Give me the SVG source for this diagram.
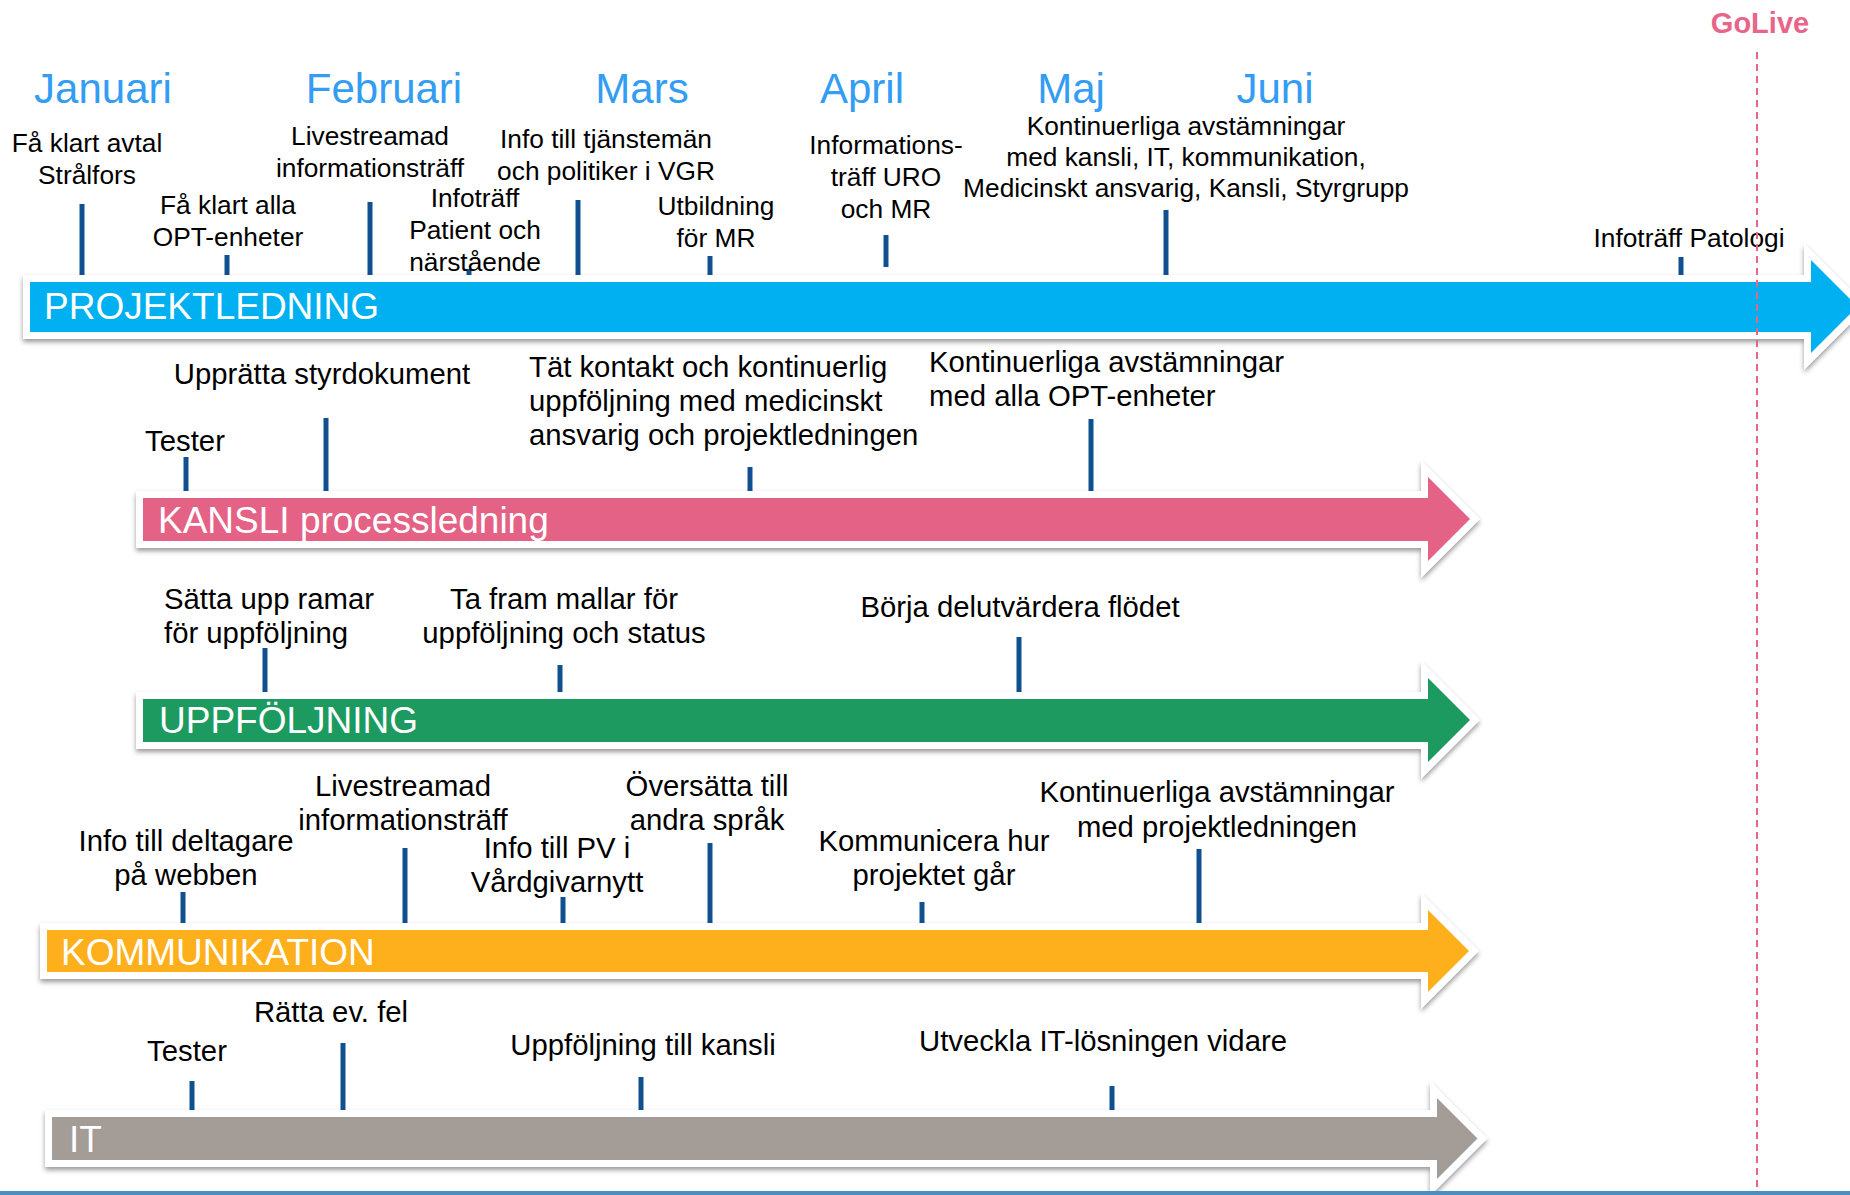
<svg xmlns="http://www.w3.org/2000/svg" width="1850" height="1195" viewBox="0 0 1850 1195">
<style>
.t{font-family:"Liberation Sans",Arial,sans-serif;fill:#000}
.s26{font-size:26.3px}
.s29{font-size:29.3px}
.m{text-anchor:middle}
.mon{font-family:"Liberation Sans",Arial,sans-serif;font-size:42px;fill:#339DF4;text-anchor:middle}
.bar{font-family:"Liberation Sans",Arial,sans-serif;font-size:37px;fill:#fff}
.arr{stroke:#fff;stroke-width:14;stroke-linejoin:miter;stroke-miterlimit:4;paint-order:stroke fill;filter:url(#sh)}
.tick{stroke:#11508F;stroke-width:5;fill:none}
</style>
<defs>
<filter id="sh" x="-5%" y="-30%" width="110%" height="160%">
<feDropShadow dx="0" dy="3" stdDeviation="2.5" flood-color="#000" flood-opacity="0.4"/>
</filter>
</defs>
<rect width="1850" height="1195" fill="#fff"/>

<g id="months">
<text class="mon" x="103" y="103">Januari</text>
<text class="mon" x="384" y="103">Februari</text>
<text class="mon" x="642" y="103">Mars</text>
<text class="mon" x="862" y="103">April</text>
<text class="mon" x="1071" y="103">Maj</text>
<text class="mon" x="1275" y="103">Juni</text>
</g>

<g id="connectors">
<line class="tick" x1="82" y1="204" x2="82" y2="275"/>
<line class="tick" x1="227" y1="255" x2="227" y2="275"/>
<line class="tick" x1="370" y1="202" x2="370" y2="275"/>
<line class="tick" x1="469" y1="269" x2="469" y2="275"/>
<line class="tick" x1="578" y1="200" x2="578" y2="275"/>
<line class="tick" x1="710" y1="256" x2="710" y2="275"/>
<line class="tick" x1="886" y1="235" x2="886" y2="267"/>
<line class="tick" x1="1166" y1="210" x2="1166" y2="275"/>
<line class="tick" x1="1681" y1="257" x2="1681" y2="275"/>

<line class="tick" x1="186" y1="457" x2="186" y2="491"/>
<line class="tick" x1="326" y1="418" x2="326" y2="491"/>
<line class="tick" x1="750" y1="467" x2="750" y2="491"/>
<line class="tick" x1="1091" y1="419" x2="1091" y2="491"/>

<line class="tick" x1="265" y1="648" x2="265" y2="692"/>
<line class="tick" x1="560" y1="665" x2="560" y2="692"/>
<line class="tick" x1="1019" y1="637" x2="1019" y2="692"/>

<line class="tick" x1="183" y1="892" x2="183" y2="923"/>
<line class="tick" x1="405" y1="848" x2="405" y2="923"/>
<line class="tick" x1="563" y1="897" x2="563" y2="923"/>
<line class="tick" x1="710" y1="843" x2="710" y2="923"/>
<line class="tick" x1="922" y1="902" x2="922" y2="923"/>
<line class="tick" x1="1199" y1="849" x2="1199" y2="923"/>

<line class="tick" x1="192" y1="1081" x2="192" y2="1110"/>
<line class="tick" x1="343" y1="1043" x2="343" y2="1110"/>
<line class="tick" x1="641" y1="1077" x2="641" y2="1110"/>
<line class="tick" x1="1112" y1="1086" x2="1112" y2="1110"/>
</g>

<g id="arrow-projektledning">
<path class="arr" fill="#00B0F0" d="M30,282 H1811 V260 L1857.5,306.5 L1811,353 V332 H30 Z"/>
<text class="bar" x="44" y="319">PROJEKTLEDNING</text>
</g>
<g id="arrow-kansli">
<path class="arr" fill="#E46285" d="M143,498 H1428 V477 L1470,519 L1428,561 V541 H143 Z"/>
<text class="bar" x="158" y="533">KANSLI processledning</text>
</g>
<g id="arrow-uppfoljning">
<path class="arr" fill="#1D9A5F" d="M143,699 H1428 V678 L1470,720 L1428,762 V742 H143 Z"/>
<text class="bar" x="159" y="733">UPPFÖLJNING</text>
</g>
<g id="arrow-kommunikation">
<path class="arr" fill="#FDB01B" d="M47,930 H1428 V910 L1469,951 L1428,992 V972 H47 Z"/>
<text class="bar" x="61" y="965">KOMMUNIKATION</text>
</g>
<g id="arrow-it">
<path class="arr" fill="#A39C97" d="M52,1117 H1437 V1098 L1477.5,1138.5 L1437,1179 V1160 H52 Z"/>
<text class="bar" x="69" y="1152">IT</text>
</g>

<g id="p1" class="t s26 m"><text x="87" y="152">Få klart avtal</text><text x="87" y="184">Strålfors</text></g>
<g id="p2" class="t s26 m"><text x="228" y="214">Få klart alla</text><text x="228" y="246">OPT-enheter</text></g>
<g id="p3" class="t s26 m"><text x="370" y="145">Livestreamad</text><text x="370" y="177">informationsträff</text></g>
<g id="p4" class="t s26 m"><text x="475" y="207">Infoträff</text><text x="475" y="239">Patient och</text><text x="475" y="271">närstående</text></g>
<g id="p5" class="t s26 m"><text x="606" y="148">Info till tjänstemän</text><text x="606" y="180">och politiker i VGR</text></g>
<g id="p6" class="t s26 m"><text x="716" y="215">Utbildning</text><text x="716" y="247">för MR</text></g>
<g id="p7" class="t s26 m"><text x="886" y="154">Informations-</text><text x="886" y="186">träff URO</text><text x="886" y="218">och MR</text></g>
<g id="p8" class="t s26 m"><text x="1186" y="135">Kontinuerliga avstämningar</text><text x="1186" y="166">med kansli, IT, kommunikation,</text><text x="1186" y="197">Medicinskt ansvarig, Kansli, Styrgrupp</text></g>
<g id="p9" class="t s26 m"><text x="1689" y="247">Infoträff Patologi</text></g>

<g id="k1" class="t s29 m"><text x="322" y="384">Upprätta styrdokument</text></g>
<g id="k2" class="t s29 m"><text x="185" y="451">Tester</text></g>
<g id="k3" class="t s29"><text x="529" y="377">Tät kontakt och kontinuerlig</text><text x="529" y="411">uppföljning med medicinskt</text><text x="529" y="445">ansvarig och projektledningen</text></g>
<g id="k4" class="t s29"><text x="929" y="372">Kontinuerliga avstämningar</text><text x="929" y="406">med alla OPT-enheter</text></g>

<g id="u1" class="t s29"><text x="164" y="609">Sätta upp ramar</text><text x="164" y="643">för uppföljning</text></g>
<g id="u2" class="t s29 m"><text x="564" y="609">Ta fram mallar för</text><text x="564" y="643">uppföljning och status</text></g>
<g id="u3" class="t s29 m"><text x="1020" y="617">Börja delutvärdera flödet</text></g>

<g id="c1" class="t s29 m"><text x="186" y="851">Info till deltagare</text><text x="186" y="885">på webben</text></g>
<g id="c2" class="t s29 m"><text x="403" y="796">Livestreamad</text><text x="403" y="830">informationsträff</text></g>
<g id="c3" class="t s29 m"><text x="557" y="858">Info till PV i</text><text x="557" y="892">Vårdgivarnytt</text></g>
<g id="c4" class="t s29 m"><text x="707" y="796">Översätta till</text><text x="707" y="830">andra språk</text></g>
<g id="c5" class="t s29 m"><text x="934" y="851">Kommunicera hur</text><text x="934" y="885">projektet går</text></g>
<g id="c6" class="t s29 m"><text x="1217" y="802">Kontinuerliga avstämningar</text><text x="1217" y="837">med projektledningen</text></g>

<g id="i1" class="t s29 m"><text x="187" y="1061">Tester</text></g>
<g id="i2" class="t s29 m"><text x="331" y="1022">Rätta ev. fel</text></g>
<g id="i3" class="t s29 m"><text x="643" y="1055">Uppföljning till kansli</text></g>
<g id="i4" class="t s29 m"><text x="1103" y="1051">Utveckla IT-lösningen vidare</text></g>

<g id="golive">
<text x="1760" y="33" style="font-family:'Liberation Sans',Arial,sans-serif;font-size:29px;font-weight:bold;fill:#E8658A;text-anchor:middle">GoLive</text>
<line x1="1757" y1="52" x2="1757" y2="1190" stroke="#E8658A" stroke-width="2" stroke-dasharray="7 5"/>
</g>
<rect x="0" y="1191" width="1850" height="4" fill="#4A8FC4"/>
</svg>
